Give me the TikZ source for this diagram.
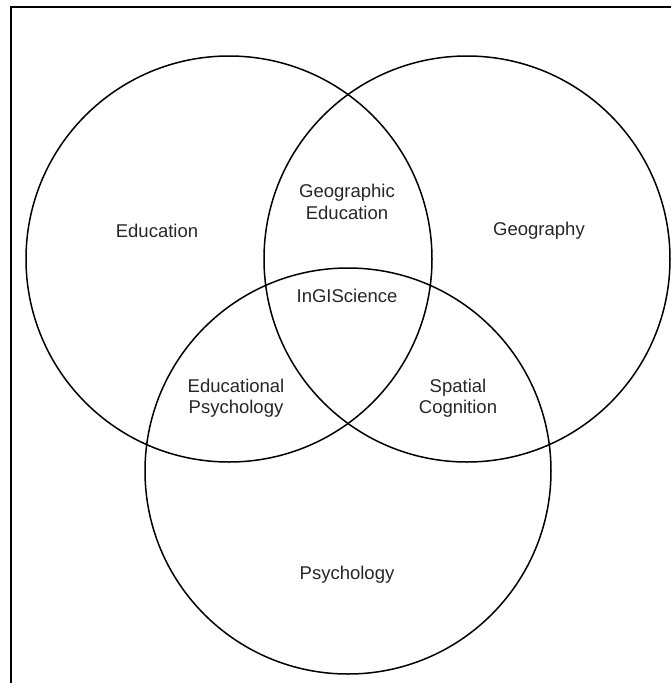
\documentclass[tikz,border=0pt]{standalone}
\usepackage{fontspec}
\setmainfont{Liberation Sans}
\begin{document}
\begin{tikzpicture}[x=1pt,y=-1pt,
  setc/.style={circle,draw=black,line width=1.5pt,minimum size=406pt,inner sep=0pt},
  lbl/.style={font=\fontsize{18.5}{21.5}\selectfont,align=center,inner sep=0pt,text=black!85}]
\useasboundingbox (0,0) rectangle (671,683);
\coordinate (fa) at (11,683);
\coordinate (fb) at (11,7);
\coordinate (fc) at (671,7);
\draw[line width=2.2pt] (fa) -- (fb) -- (fc);
\node[setc] (edu) at (229,259) {};
\node[setc] (geo) at (467,259) {};
\node[setc] (psy) at (348,471) {};
\node[lbl] (tedu) at (157,231) {Education};
\node[lbl] (tgeo) at (539,231) {Geography};
\node[lbl] (tge) at (347,202) {Geographic\\Education};
\node[lbl] (tin) at (347,296) {InGIScience};
\node[lbl] (tep) at (236,398) {Educational\\Psychology};
\node[lbl] (tsc) at (458,398) {Spatial\\Cognition};
\node[lbl] (tpsy) at (347,575) {Psychology};
\end{tikzpicture}
\end{document}
